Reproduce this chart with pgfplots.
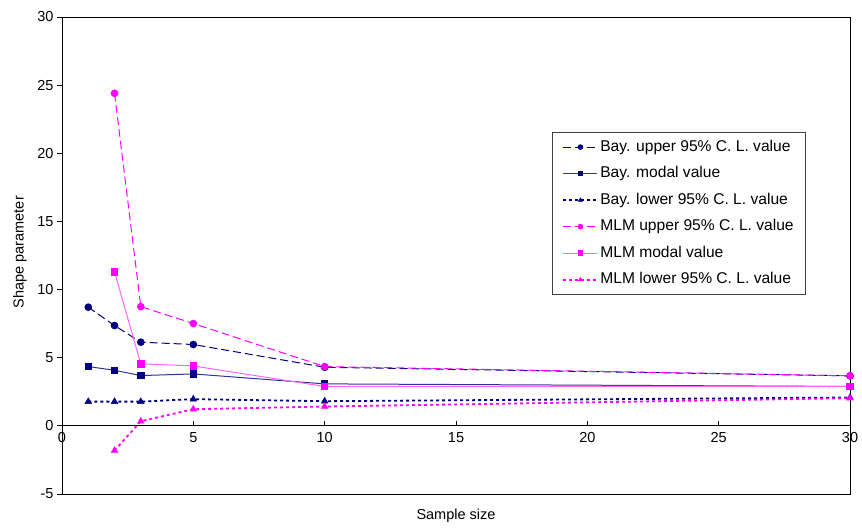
\documentclass[border=0pt]{standalone}
\usepackage{pgfplots}
\pgfplotsset{compat=1.18}
\usepackage{fontspec}
\setmainfont{Liberation Sans}
\definecolor{navy}{RGB}{0,0,128}
\definecolor{navyl}{RGB}{50,50,150}
\definecolor{mag}{RGB}{255,0,255}
\definecolor{magl}{RGB}{255,100,255}
\begin{document}
\begin{tikzpicture}
\begin{axis}[
  scale only axis, width=788pt, height=477pt,
  xmin=0, xmax=30, ymin=-5, ymax=30,
  axis x line=middle, axis y line=left, axis line style={-, black, line width=0.8pt},
  hide obscured x ticks=false, hide obscured y ticks=false,
  xtick={0,5,10,15,20,25,30}, xticklabels={0,5,10,15,20,25,30},
  ytick={-5,0,5,10,15,20,25,30}, yticklabels={-5,0,5,10,15,20,25,30},
  xtick align=inside, ytick align=outside,
  major tick length=5pt,
  tick style={black, line width=0.8pt},
  ticklabel style={font=\fontsize{14.5}{16}\selectfont},
  xticklabel style={yshift=-3pt},
  xlabel={Sample size}, ylabel={Shape parameter},
  label style={font=\fontsize{14.5}{16}\selectfont},
  x label style={at={(axis description cs:0.5,0)}, anchor=north, yshift=-11pt},
  y label style={at={(axis description cs:-0.0533,0.507)}, anchor=center, rotate=0},
  clip=false,
  legend style={at={(0.622,0.759)}, anchor=north west, draw=black!75, line width=0.8pt,
    font=\fontsize{15.6}{17}\selectfont, row sep=9pt, inner xsep=10pt, inner ysep=6pt,
    nodes={text height=11pt, text depth=2.5pt, inner sep=2pt}},
  legend cell align=left,
  legend image code/.code={\draw[#1, mark size=2.3pt, mark repeat=2, mark phase=2] plot coordinates {(0pt,0pt) (17pt,0pt) (34pt,0pt)};},
]
\draw[black, line width=0.8pt] (rel axis cs:0,0) rectangle (rel axis cs:1,1);
\addplot[navy, line width=1pt, dash pattern=on 8pt off 4pt, mark=*, mark size=3.3pt, mark options={solid}]
  coordinates {(1,8.71)(2,7.36)(3,6.14)(5,5.97)(10,4.30)(30,3.67)};
\addlegendentry{Bay. upper 95\% C. L. value}
\addplot[navyl, line width=1pt, mark=square*, mark size=3.2pt, mark options={navy, solid}]
  coordinates {(1,4.35)(2,4.08)(3,3.69)(5,3.81)(10,3.08)(30,2.89)};
\addlegendentry{Bay. modal value}
\addplot[navy, line width=1.8pt, dash pattern=on 3pt off 3pt, mark=triangle*, mark size=3.8pt, mark options={solid, line width=0.5pt}]
  coordinates {(1,1.78)(2,1.78)(3,1.78)(5,1.96)(10,1.81)(30,2.08)};
\addlegendentry{Bay. lower 95\% C. L. value}
\addplot[mag, line width=1pt, dash pattern=on 8pt off 4pt, mark=*, mark size=3.3pt, mark options={solid}]
  coordinates {(2,24.4)(3,8.75)(5,7.51)(10,4.35)(30,3.67)};
\addlegendentry{MLM upper 95\% C. L. value}
\addplot[magl, line width=1pt, mark=square*, mark size=3.2pt, mark options={mag, solid}]
  coordinates {(2,11.3)(3,4.55)(5,4.40)(10,2.89)(30,2.89)};
\addlegendentry{MLM modal value}
\addplot[mag, line width=1.8pt, dash pattern=on 3pt off 3pt, mark=triangle*, mark size=3.8pt, mark options={solid, line width=0.5pt}]
  coordinates {(2,-1.81)(3,0.34)(5,1.22)(10,1.42)(30,2.03)};
\addlegendentry{MLM lower 95\% C. L. value}
\end{axis}
\pgfresetboundingbox
\path (-62pt,-37pt) rectangle (800pt,494pt);
\end{tikzpicture}
\end{document}
